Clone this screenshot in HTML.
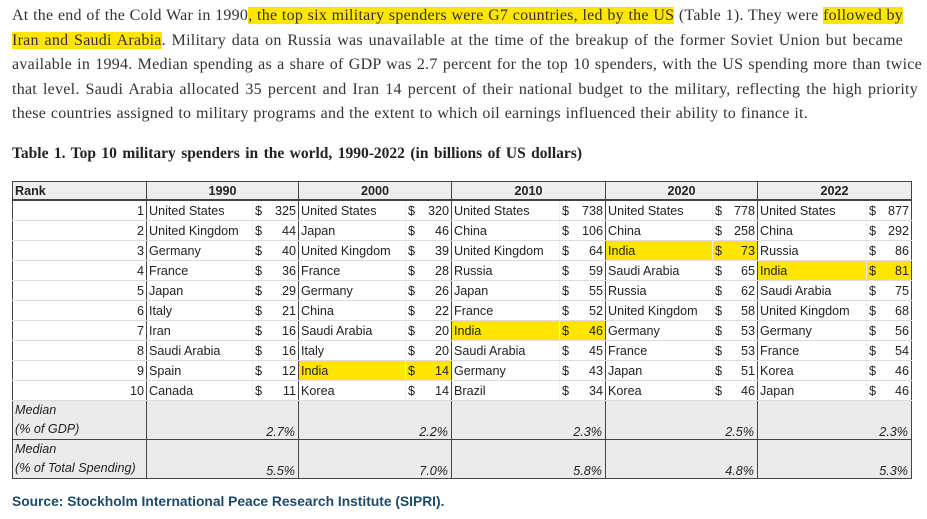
<!DOCTYPE html>
<html><head><meta charset="utf-8">
<style>
body{margin:0;width:927px;height:519px;background:#fff;overflow:hidden;position:relative;font-family:"Liberation Sans",sans-serif;color:#222}
#para{position:absolute;left:12px;top:4px;font-family:"Liberation Serif",serif;font-size:16px;letter-spacing:0.25px;line-height:24.6px;color:#333}
#para div{text-align:justify;text-align-last:justify;white-space:nowrap}
.hl{background:#ffe600}
#title{position:absolute;left:12px;top:145px;width:570px;text-align:justify;text-align-last:justify;font-family:"Liberation Serif",serif;font-weight:bold;font-size:15.5px;color:#222}
#tbl{position:absolute;left:12px;top:181px;border-collapse:collapse;table-layout:fixed;font-size:12.6px}
#tbl td{padding:0 2px;height:19px;border-bottom:1px solid #ddd;white-space:nowrap;overflow:hidden}
#tbl tr.hd td{background:#eee;font-weight:bold;text-align:center;border-bottom:2px solid #444;height:17px;border-top:1.5px solid #444}
#tbl td.vb{border-left:1.5px solid #444}
#tbl td.val{border-left:1px solid #eee}
#tbl tr.md td{background:#ebebeb;font-style:italic;border-bottom:1.5px solid #444;height:36px;vertical-align:bottom;text-align:right;padding-right:3px}
#tbl tr.md td.lbl{text-align:left;line-height:19px}
.dollar{float:left}
.y{background:#ffe600}
#src{position:absolute;left:12px;top:494px;font-size:13.8px;font-weight:bold;color:#1d4a66}
</style></head><body>
<div id="para">
<div style="width:891px">At the end of the Cold War in 1990<span class="hl">, the top six military spenders were G7 countries, led by the US</span> (Table 1). They were <span class="hl">followed by</span></div>
<div style="width:891px"><span class="hl">Iran and Saudi Arabia</span>. Military data on Russia was unavailable at the time of the breakup of the former Soviet Union but became</div>
<div style="width:910px">available in 1994. Median spending as a share of GDP was 2.7 percent for the top 10 spenders, with the US spending more than twice</div>
<div style="width:906px">that level. Saudi Arabia allocated 35 percent and Iran 14 percent of their national budget to the military, reflecting the high priority</div>
<div style="width:796px">these countries assigned to military programs and the extent to which oil earnings influenced their ability to finance it.</div>
</div>
<div id="title">Table 1. Top 10 military spenders in the world, 1990-2022 (in billions of US dollars)</div>
<table id="tbl">
<colgroup><col style="width:134px"><col style="width:106px"><col style="width:46px"><col style="width:107px"><col style="width:46px"><col style="width:108px"><col style="width:46px"><col style="width:107px"><col style="width:45px"><col style="width:109px"><col style="width:45px"></colgroup>
<tbody id="tb"></tbody></table>
<div id="src">Source: Stockholm International Peace Research Institute (SIPRI).</div>
<script>
const years=["1990","2000","2010","2020","2022"];
const countries=[
["United States","United Kingdom","Germany","France","Japan","Italy","Iran","Saudi Arabia","Spain","Canada"],
["United States","Japan","United Kingdom","France","Germany","China","Saudi Arabia","Italy","India","Korea"],
["United States","China","United Kingdom","Russia","Japan","France","India","Saudi Arabia","Germany","Brazil"],
["United States","China","India","Saudi Arabia","Russia","United Kingdom","Germany","France","Japan","Korea"],
["United States","China","Russia","India","Saudi Arabia","United Kingdom","Germany","France","Korea","Japan"]];
const spending=[
[325,44,40,36,29,21,16,16,12,11],
[320,46,39,28,26,22,20,20,14,14],
[738,106,64,59,55,52,46,45,43,34],
[778,258,73,65,62,58,53,53,51,46],
[877,292,86,81,75,68,56,54,46,46]];
const medGdp=["2.7%","2.2%","2.3%","2.5%","2.3%"];
const medTot=["5.5%","7.0%","5.8%","4.8%","5.3%"];
const tb=document.getElementById('tb');
let tr=document.createElement('tr');tr.className='hd';
let td=document.createElement('td');td.textContent='Rank';td.style.textAlign='left';td.style.borderLeft='1.5px solid #444';


tr.appendChild(td);
years.forEach(y=>{const c=document.createElement('td');c.colSpan=2;c.className='vb';c.textContent=y;


tr.appendChild(c);});
tr.lastChild.style.borderRight='1.5px solid #444';
tb.appendChild(tr);
for(let r=0;r<10;r++){
 tr=document.createElement('tr');
 td=document.createElement('td');td.textContent=r+1;td.style.textAlign='right';td.style.borderLeft='1.5px solid #444';
 
 
 tr.appendChild(td);
 years.forEach((y,i)=>{
  const n=document.createElement('td');n.className='vb';n.textContent=countries[i][r];
  
  
  const v=document.createElement('td');v.className='val';v.style.textAlign='right';
  v.innerHTML='<span class="dollar">$</span>'+spending[i][r];
  
  
  if(countries[i][r]==='India'&&i>0){n.classList.add('y');v.classList.add('y');}
  tr.appendChild(n);tr.appendChild(v);
 });
 tr.lastChild.style.borderRight='1.5px solid #444';
 tb.appendChild(tr);
}
[["Median<br>(% of GDP)",medGdp,"median-gdp-row"],["Median<br>(% of Total Spending)",medTot,"median-total-row"]].forEach(([lbl,arr,nm])=>{
 tr=document.createElement('tr');tr.className='md';
 
 
 td=document.createElement('td');td.className='lbl';td.innerHTML=lbl;td.style.borderLeft='1.5px solid #444';tr.appendChild(td);
 arr.forEach(v=>{const c=document.createElement('td');c.colSpan=2;c.className='vb';c.textContent=v;
 
 
 tr.appendChild(c);});
 tr.lastChild.style.borderRight='1.5px solid #444';
 tb.appendChild(tr);
});
</script>
</body></html>
